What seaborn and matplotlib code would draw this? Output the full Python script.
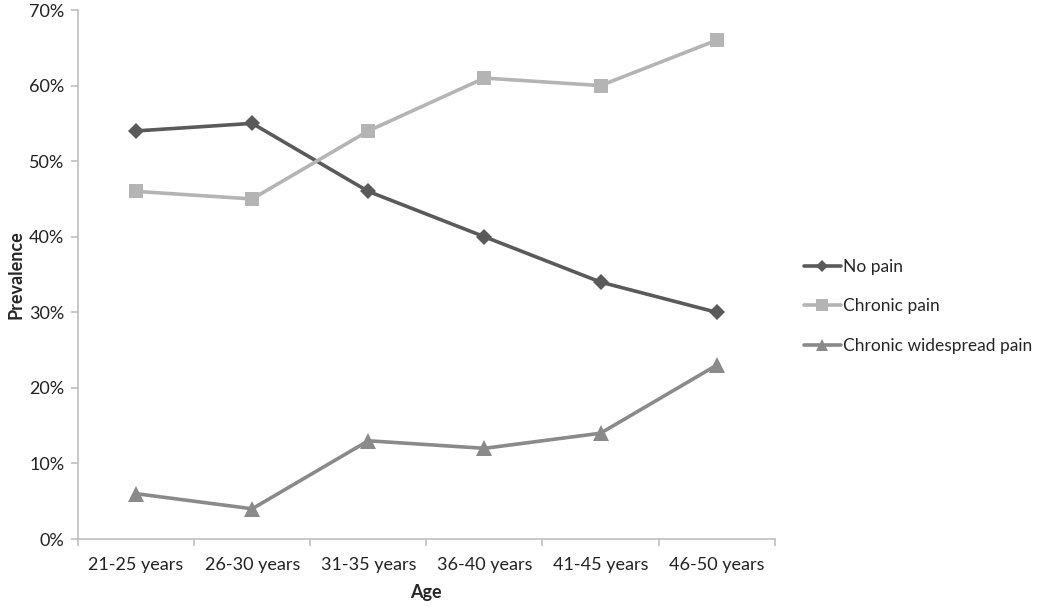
import numpy as np
import pandas as pd
import seaborn as sns
import matplotlib.pyplot as plt
from matplotlib.ticker import FixedLocator, PercentFormatter

ages = ['21-25 years', '26-30 years', '31-35 years',
        '36-40 years', '41-45 years', '46-50 years']
series = ['No pain', 'Chronic pain', 'Chronic widespread pain']
no_pain = [54, 55, 46, 40, 34, 30]
chronic_pain = [46, 45, 54, 61, 60, 66]
widespread_pain = [6, 4, 13, 12, 14, 23]

df = pd.DataFrame({
    'age': ages * 3,
    'pos': list(range(len(ages))) * 3,
    'value': no_pain + chronic_pain + widespread_pain,
    'group': np.repeat(series, len(ages)),
})

sns.set_style('white')
plt.rcParams['font.family'] = ['Lato', 'DejaVu Sans']

fig = plt.figure(figsize=(10.46, 6.07), dpi=100)
ax = fig.add_axes([0.0746, 0.112, 0.666, 0.8715])

palette = {'No pain': '#5a5a5a', 'Chronic pain': '#b4b4b4',
           'Chronic widespread pain': '#8a8a8a'}
markers = {'No pain': 'D', 'Chronic pain': 's', 'Chronic widespread pain': '^'}
sizes = {'No pain': 8, 'Chronic pain': 10, 'Chronic widespread pain': 11}

for name in series:
    sns.lineplot(data=df[df['group'] == name], x='pos', y='value',
                 color=palette[name], marker=markers[name],
                 markersize=sizes[name], markeredgewidth=0,
                 linewidth=2.6, label=name, ax=ax)

ax.set_xlim(-0.5, len(ages) - 0.5)
ax.set_ylim(0, 70)
ax.set_yticks(range(0, 71, 10))
ax.yaxis.set_major_formatter(PercentFormatter(decimals=0))
ax.set_xticks(range(len(ages)))
ax.set_xticklabels(ages)
ax.xaxis.set_minor_locator(FixedLocator(np.arange(-0.5, len(ages), 1.0)))
ax.tick_params(axis='x', which='major', length=0, pad=13, labelsize=13,
               colors='#222222')
ax.tick_params(axis='x', which='minor', length=5, color='#bfbfbf', width=1.2,
               direction='out', bottom=True)
ax.tick_params(axis='y', length=5, color='#bfbfbf', width=1.2,
               direction='out', left=True, labelsize=13, labelcolor='#222222',
               pad=5)

for side in ['top', 'right']:
    ax.spines[side].set_visible(False)
for side in ['left', 'bottom']:
    ax.spines[side].set_color('#bfbfbf')
    ax.spines[side].set_linewidth(1.2)

ax.set_xlabel('Age', fontsize=13, fontweight='bold', labelpad=8)
ax.set_ylabel('Prevalence', fontsize=13, fontweight='bold', labelpad=3)

ax.legend(loc='center left', bbox_to_anchor=(1.02, 0.44), frameon=False,
          fontsize=12.5, handlelength=2.1, handletextpad=0.15,
          labelspacing=1.35, markerscale=0.8)

plt.savefig('out.png', dpi=100)
